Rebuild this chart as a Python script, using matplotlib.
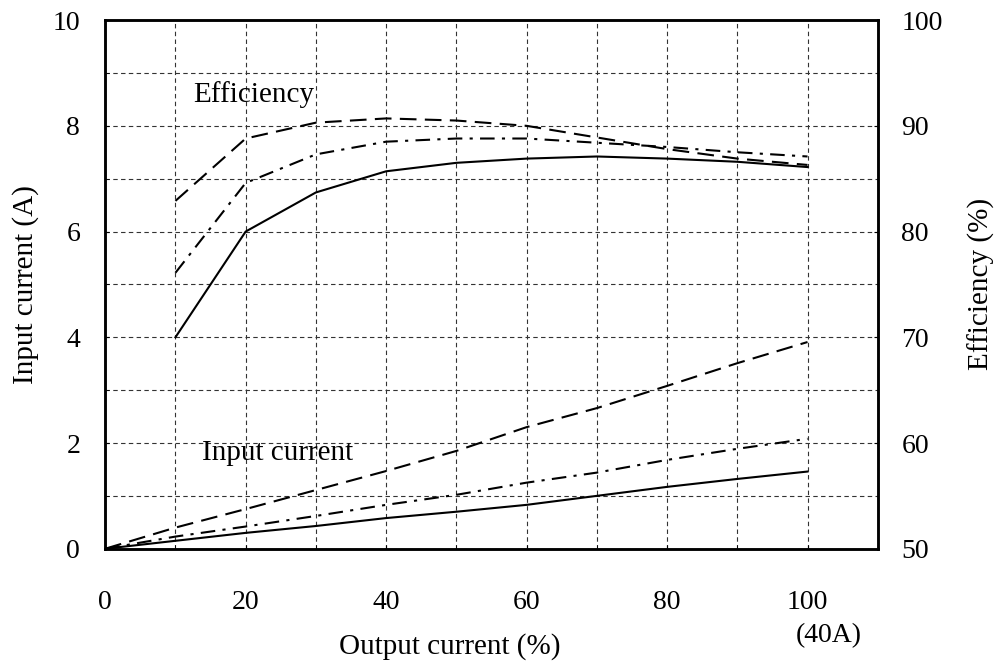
import matplotlib
matplotlib.use('Agg')
import matplotlib.pyplot as plt

# output current (%)
load = [0, 10, 20, 30, 40, 50, 60, 70, 80, 90, 100]
eff_load = [10, 20, 30, 40, 50, 60, 70, 80, 90, 100]

# efficiency (%) - right axis
eff_solid = [70.0, 80.0, 83.7, 85.7, 86.5, 86.9, 87.1, 86.9, 86.6, 86.1]
eff_dash = [82.9, 88.8, 90.3, 90.7, 90.5, 90.0, 88.9, 87.8, 86.9, 86.3]
eff_dashdot = [76.1, 84.6, 87.3, 88.5, 88.8, 88.8, 88.4, 88.0, 87.5, 87.1]

# input current (A) - left axis
cur_solid = [0, 0.15, 0.30, 0.43, 0.58, 0.70, 0.83, 1.00, 1.17, 1.32, 1.46]
cur_dash = [0, 0.40, 0.75, 1.11, 1.47, 1.85, 2.30, 2.66, 3.08, 3.51, 3.91]
cur_dashdot = [0, 0.23, 0.42, 0.62, 0.83, 1.02, 1.25, 1.44, 1.68, 1.89, 2.08]

plt.rcParams['font.family'] = ['Liberation Serif', 'DejaVu Serif']

fig = plt.figure(figsize=(10.02, 6.70), dpi=100)
ax = fig.add_axes([0.105, 0.181, 0.771, 0.789])
ax2 = ax.twinx()

dash = (0, (8, 4))
dashdot = (0, (7, 3.5, 1.5, 3.5))
lw = 1.5

ax.plot(load, cur_solid, color='black', lw=lw, ls='-')
ax.plot(load, cur_dash, color='black', lw=lw, ls=dash)
ax.plot(load, cur_dashdot, color='black', lw=lw, ls=dashdot)

ax2.plot(eff_load, eff_solid, color='black', lw=lw, ls='-')
ax2.plot(eff_load, eff_dash, color='black', lw=lw, ls=dash)
ax2.plot(eff_load, eff_dashdot, color='black', lw=lw, ls=dashdot)

ax.set_xlim(0, 110)
ax.set_ylim(0, 10)
ax2.set_ylim(50, 100)

ax.set_xticks(range(0, 101, 20))
ax.set_xticks(range(0, 111, 10), minor=True)
ax.set_yticks(range(0, 11, 2))
ax.set_yticks(range(0, 11, 1), minor=True)
ax2.set_yticks(range(50, 101, 10))

ax.grid(which='both', color='#333333', ls=(0, (4, 3)), lw=0.8)

ax.tick_params(axis='x', which='both', direction='in', length=3, pad=30, labelsize=20)
ax.tick_params(axis='y', which='both', direction='in', length=3, pad=18, labelsize=20)
ax2.tick_params(axis='y', direction='in', length=3, pad=17, labelsize=20)

for a in (ax, ax2):
    for s in a.spines.values():
        s.set_linewidth(1.8)

ax.set_ylabel('Input current (A)', fontsize=21)
ax2.set_ylabel('Efficiency (%)', fontsize=21)
ax.set_xlabel('Output current (%)', fontsize=21)
ax.yaxis.set_label_coords(-0.103, 0.5)
ax2.yaxis.set_label_coords(1.134, 0.5)
ax.xaxis.set_label_coords(0.446, -0.185)
ax.xaxis.label.set_va('center')
ax.yaxis.label.set_va('center')
ax2.yaxis.label.set_va('center')

ax.text(103, -1.65, '(40A)', fontsize=20, ha='center', va='center')
ax.text(12.5, 8.6, 'Efficiency', fontsize=21, ha='left', va='center')
ax.text(13.8, 1.81, 'Input current', fontsize=21, ha='left', va='center')

fig.savefig('out.png', dpi=100)
